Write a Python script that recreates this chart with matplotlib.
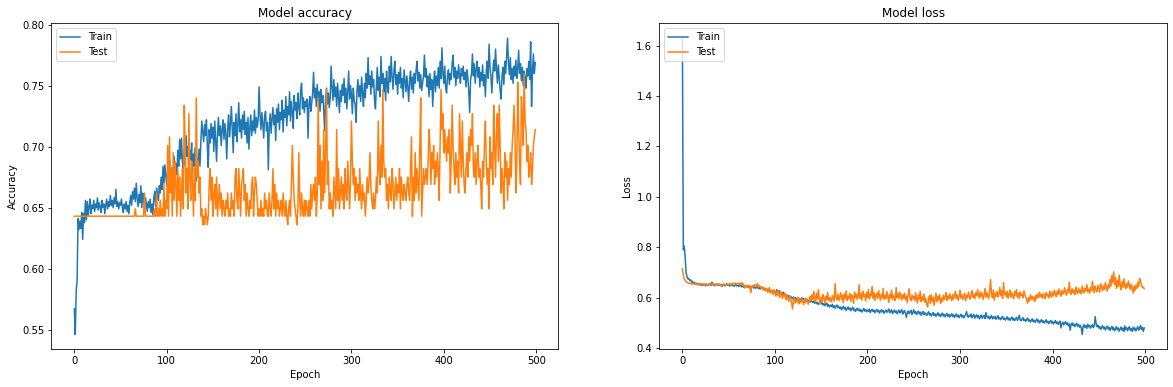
import numpy as np
import matplotlib
matplotlib.use("Agg")
import matplotlib.pyplot as plt

train_acc = [
0.567, 0.546, 0.582, 0.590, 0.641, 0.632, 0.639, 0.633, 0.646, 0.624,
0.645, 0.638, 0.656, 0.640, 0.655, 0.643, 0.651, 0.657, 0.645, 0.652,
0.649, 0.656, 0.647, 0.653, 0.650, 0.658, 0.648, 0.654, 0.651, 0.646,
0.656, 0.650, 0.653, 0.645, 0.652, 0.657, 0.649, 0.655, 0.651, 0.660,
0.652, 0.656, 0.650, 0.658, 0.653, 0.665, 0.651, 0.655, 0.649, 0.654,
0.652, 0.657, 0.650, 0.646, 0.653, 0.649, 0.655, 0.647, 0.652, 0.645,
0.654, 0.660, 0.652, 0.663, 0.657, 0.666, 0.655, 0.670, 0.658, 0.651,
0.661, 0.654, 0.668, 0.650, 0.662, 0.656, 0.649, 0.658, 0.653, 0.647,
0.655, 0.650, 0.657, 0.646, 0.653, 0.644, 0.658, 0.663, 0.651, 0.666,
0.660, 0.656, 0.668, 0.662, 0.675, 0.665, 0.684, 0.670, 0.685, 0.676,
0.668, 0.680, 0.671, 0.689, 0.678, 0.665, 0.683, 0.674, 0.692, 0.680,
0.686, 0.677, 0.697, 0.684, 0.706, 0.690, 0.707, 0.688, 0.682, 0.698,
0.685, 0.709, 0.692, 0.700, 0.680, 0.697, 0.689, 0.703, 0.678, 0.694,
0.684, 0.699, 0.672, 0.690, 0.686, 0.698, 0.684, 0.705, 0.721, 0.712,
0.704, 0.718, 0.709, 0.722, 0.700, 0.683, 0.714, 0.703, 0.719, 0.707,
0.716, 0.696, 0.721, 0.705, 0.688, 0.712, 0.724, 0.709, 0.717, 0.701,
0.714, 0.722, 0.706, 0.719, 0.710, 0.690, 0.715, 0.726, 0.708, 0.718,
0.733, 0.713, 0.695, 0.720, 0.709, 0.727, 0.704, 0.718, 0.736, 0.712,
0.722, 0.707, 0.726, 0.714, 0.729, 0.710, 0.720, 0.703, 0.724, 0.698,
0.715, 0.726, 0.709, 0.721, 0.713, 0.730, 0.711, 0.724, 0.716, 0.722,
0.749, 0.726, 0.714, 0.728, 0.719, 0.707, 0.725, 0.729, 0.713, 0.720,
0.681, 0.716, 0.727, 0.711, 0.723, 0.732, 0.718, 0.726, 0.705, 0.731,
0.720, 0.735, 0.714, 0.728, 0.722, 0.738, 0.712, 0.730, 0.724, 0.741,
0.717, 0.733, 0.726, 0.745, 0.721, 0.737, 0.728, 0.715, 0.742, 0.730,
0.736, 0.723, 0.744, 0.732, 0.726, 0.746, 0.752, 0.731, 0.740, 0.728,
0.737, 0.733, 0.739, 0.707, 0.735, 0.741, 0.729, 0.736, 0.744, 0.761,
0.740, 0.748, 0.733, 0.751, 0.738, 0.745, 0.729, 0.747, 0.736, 0.742,
0.730, 0.713, 0.739, 0.748, 0.735, 0.744, 0.732, 0.740, 0.766, 0.749,
0.738, 0.755, 0.741, 0.749, 0.733, 0.752, 0.740, 0.728, 0.746, 0.737,
0.751, 0.742, 0.756, 0.736, 0.748, 0.731, 0.745, 0.762, 0.739, 0.750,
0.743, 0.727, 0.748, 0.738, 0.735, 0.720, 0.746, 0.755, 0.741, 0.750,
0.737, 0.757, 0.744, 0.733, 0.752, 0.740, 0.760, 0.748, 0.773, 0.751,
0.758, 0.743, 0.762, 0.749, 0.755, 0.738, 0.731, 0.751, 0.765, 0.746,
0.757, 0.741, 0.774, 0.752, 0.760, 0.745, 0.756, 0.738, 0.762, 0.750,
0.744, 0.766, 0.753, 0.774, 0.757, 0.747, 0.762, 0.770, 0.751, 0.759,
0.743, 0.761, 0.752, 0.765, 0.748, 0.756, 0.740, 0.763, 0.754, 0.745,
0.758, 0.749, 0.737, 0.755, 0.762, 0.747, 0.757, 0.744, 0.760, 0.752,
0.763, 0.770, 0.754, 0.761, 0.748, 0.759, 0.746, 0.752, 0.758, 0.775,
0.757, 0.764, 0.749, 0.758, 0.741, 0.760, 0.747, 0.755, 0.733, 0.752,
0.762, 0.745, 0.758, 0.750, 0.765, 0.748, 0.770, 0.756, 0.781, 0.760,
0.752, 0.766, 0.748, 0.744, 0.758, 0.763, 0.751, 0.760, 0.755, 0.768,
0.775, 0.757, 0.765, 0.750, 0.762, 0.756, 0.767, 0.759, 0.752, 0.764,
0.758, 0.766, 0.755, 0.761, 0.749, 0.763, 0.757, 0.745, 0.728, 0.755,
0.760, 0.776, 0.758, 0.768, 0.752, 0.763, 0.770, 0.757, 0.765, 0.749,
0.761, 0.754, 0.767, 0.750, 0.759, 0.741, 0.762, 0.770, 0.756, 0.784,
0.765, 0.758, 0.744, 0.760, 0.771, 0.762, 0.780, 0.764, 0.752, 0.767,
0.757, 0.746, 0.739, 0.758, 0.765, 0.751, 0.770, 0.760, 0.774, 0.789,
0.768, 0.759, 0.773, 0.755, 0.764, 0.752, 0.766, 0.758, 0.771, 0.756,
0.763, 0.779, 0.760, 0.768, 0.754, 0.765, 0.750, 0.762, 0.757, 0.748,
0.764, 0.758, 0.770, 0.755, 0.786, 0.733, 0.762, 0.776, 0.760, 0.769,
]

test_acc = [
0.643, 0.643, 0.643, 0.643, 0.643, 0.643, 0.643, 0.643, 0.643, 0.643,
0.643, 0.643, 0.643, 0.643, 0.643, 0.643, 0.643, 0.643, 0.643, 0.643,
0.643, 0.643, 0.643, 0.643, 0.643, 0.643, 0.643, 0.643, 0.643, 0.643,
0.643, 0.643, 0.643, 0.643, 0.643, 0.643, 0.643, 0.643, 0.643, 0.643,
0.643, 0.643, 0.643, 0.643, 0.643, 0.643, 0.643, 0.643, 0.643, 0.643,
0.643, 0.643, 0.643, 0.643, 0.643, 0.643, 0.643, 0.643, 0.643, 0.643,
0.643, 0.643, 0.643, 0.643, 0.643, 0.643, 0.649, 0.643, 0.643, 0.643,
0.643, 0.643, 0.643, 0.643, 0.643, 0.643, 0.662, 0.643, 0.643, 0.643,
0.643, 0.643, 0.643, 0.643, 0.643, 0.643, 0.643, 0.649, 0.643, 0.662,
0.643, 0.649, 0.643, 0.656, 0.643, 0.649, 0.643, 0.669, 0.643, 0.656,
0.649, 0.701, 0.643, 0.708, 0.662, 0.682, 0.643, 0.695, 0.656, 0.688,
0.669, 0.643, 0.682, 0.656, 0.675, 0.643, 0.662, 0.682, 0.649, 0.734,
0.701, 0.662, 0.682, 0.649, 0.727, 0.675, 0.656, 0.688, 0.669, 0.643,
0.682, 0.656, 0.740, 0.675, 0.688, 0.662, 0.675, 0.643, 0.649, 0.636,
0.643, 0.636, 0.649, 0.643, 0.636, 0.643, 0.669, 0.682, 0.656, 0.675,
0.643, 0.662, 0.669, 0.649, 0.675, 0.643, 0.656, 0.669, 0.649, 0.662,
0.643, 0.656, 0.649, 0.643, 0.656, 0.649, 0.662, 0.643, 0.649, 0.643,
0.662, 0.649, 0.656, 0.643, 0.675, 0.682, 0.656, 0.649, 0.682, 0.662,
0.643, 0.669, 0.675, 0.682, 0.656, 0.669, 0.643, 0.662, 0.649, 0.643,
0.656, 0.649, 0.669, 0.675, 0.643, 0.662, 0.675, 0.669, 0.656, 0.643,
0.649, 0.643, 0.656, 0.643, 0.649, 0.643, 0.662, 0.649, 0.656, 0.643,
0.643, 0.662, 0.649, 0.643, 0.656, 0.682, 0.649, 0.669, 0.643, 0.662,
0.649, 0.656, 0.643, 0.649, 0.656, 0.643, 0.662, 0.649, 0.643, 0.656,
0.643, 0.636, 0.649, 0.656, 0.643, 0.669, 0.701, 0.675, 0.656, 0.649,
0.643, 0.636, 0.649, 0.695, 0.656, 0.643, 0.662, 0.649, 0.643, 0.656,
0.643, 0.656, 0.649, 0.643, 0.656, 0.643, 0.669, 0.649, 0.662, 0.669,
0.656, 0.675, 0.643, 0.662, 0.740, 0.669, 0.701, 0.649, 0.688, 0.656,
0.714, 0.662, 0.695, 0.747, 0.669, 0.688, 0.649, 0.662, 0.649, 0.656,
0.643, 0.675, 0.662, 0.649, 0.714, 0.656, 0.682, 0.649, 0.662, 0.675,
0.656, 0.669, 0.649, 0.682, 0.662, 0.656, 0.688, 0.669, 0.649, 0.675,
0.721, 0.688, 0.669, 0.682, 0.656, 0.675, 0.662, 0.669, 0.656, 0.682,
0.662, 0.649, 0.669, 0.656, 0.662, 0.643, 0.656, 0.675, 0.662, 0.669,
0.695, 0.669, 0.656, 0.649, 0.662, 0.649, 0.656, 0.675, 0.662, 0.721,
0.682, 0.669, 0.701, 0.675, 0.747, 0.688, 0.675, 0.682, 0.656, 0.669,
0.649, 0.675, 0.662, 0.656, 0.682, 0.669, 0.649, 0.662, 0.675, 0.656,
0.669, 0.662, 0.682, 0.649, 0.675, 0.662, 0.656, 0.669, 0.662, 0.656,
0.669, 0.675, 0.662, 0.656, 0.682, 0.708, 0.643, 0.675, 0.656, 0.695,
0.662, 0.682, 0.669, 0.656, 0.701, 0.740, 0.643, 0.662, 0.682, 0.669,
0.675, 0.682, 0.669, 0.688, 0.714, 0.701, 0.669, 0.695, 0.682, 0.701,
0.669, 0.688, 0.675, 0.695, 0.682, 0.656, 0.701, 0.747, 0.714, 0.727,
0.695, 0.714, 0.701, 0.688, 0.708, 0.695, 0.714, 0.662, 0.688, 0.734,
0.701, 0.682, 0.669, 0.695, 0.675, 0.688, 0.662, 0.727, 0.701, 0.675,
0.721, 0.688, 0.669, 0.662, 0.682, 0.695, 0.675, 0.708, 0.688, 0.714,
0.701, 0.727, 0.682, 0.675, 0.695, 0.669, 0.688, 0.701, 0.675, 0.682,
0.669, 0.649, 0.688, 0.675, 0.701, 0.721, 0.688, 0.669, 0.682, 0.649,
0.708, 0.682, 0.695, 0.669, 0.734, 0.701, 0.675, 0.714, 0.727, 0.688,
0.734, 0.701, 0.662, 0.682, 0.669, 0.649, 0.695, 0.675, 0.688, 0.656,
0.682, 0.669, 0.695, 0.675, 0.701, 0.714, 0.734, 0.708, 0.662, 0.688,
0.753, 0.714, 0.688, 0.669, 0.741, 0.727, 0.701, 0.760, 0.721, 0.714,
0.688, 0.701, 0.675, 0.682, 0.695, 0.669, 0.682, 0.701, 0.708, 0.714,
]

train_loss = [
1.630, 0.790, 0.805, 0.760, 0.700, 0.682, 0.675, 0.676, 0.668, 0.670,
0.662, 0.665, 0.657, 0.660, 0.654, 0.658, 0.652, 0.656, 0.650, 0.655,
0.651, 0.648, 0.655, 0.650, 0.653, 0.647, 0.654, 0.651, 0.649, 0.656,
0.652, 0.648, 0.662, 0.650, 0.653, 0.647, 0.652, 0.655, 0.649, 0.651,
0.654, 0.648, 0.652, 0.645, 0.651, 0.653, 0.647, 0.650, 0.656, 0.649,
0.652, 0.646, 0.650, 0.654, 0.647, 0.651, 0.645, 0.649, 0.653, 0.646,
0.650, 0.644, 0.648, 0.652, 0.643, 0.647, 0.641, 0.646, 0.649, 0.642,
0.645, 0.640, 0.647, 0.643, 0.638, 0.644, 0.646, 0.639, 0.643, 0.637,
0.641, 0.645, 0.636, 0.640, 0.634, 0.639, 0.642, 0.633, 0.637, 0.631,
0.635, 0.628, 0.633, 0.626, 0.631, 0.624, 0.629, 0.622, 0.627, 0.619,
0.624, 0.617, 0.632, 0.615, 0.620, 0.628, 0.612, 0.618, 0.610, 0.622,
0.607, 0.615, 0.604, 0.611, 0.602, 0.608, 0.598, 0.606, 0.600, 0.595,
0.603, 0.596, 0.601, 0.593, 0.598, 0.590, 0.596, 0.588, 0.594, 0.600,
0.592, 0.597, 0.589, 0.595, 0.586, 0.591, 0.584, 0.590, 0.582, 0.588,
0.585, 0.580, 0.587, 0.578, 0.583, 0.576, 0.581, 0.573, 0.579, 0.584,
0.575, 0.580, 0.571, 0.577, 0.568, 0.574, 0.579, 0.566, 0.572, 0.563,
0.570, 0.565, 0.574, 0.561, 0.568, 0.558, 0.566, 0.571, 0.560, 0.564,
0.557, 0.563, 0.552, 0.560, 0.566, 0.555, 0.561, 0.549, 0.557, 0.563,
0.553, 0.559, 0.548, 0.556, 0.562, 0.550, 0.555, 0.545, 0.553, 0.558,
0.549, 0.555, 0.546, 0.552, 0.543, 0.550, 0.557, 0.547, 0.553, 0.544,
0.551, 0.546, 0.555, 0.541, 0.549, 0.554, 0.545, 0.551, 0.540, 0.548,
0.553, 0.544, 0.550, 0.539, 0.547, 0.552, 0.543, 0.549, 0.538, 0.546,
0.551, 0.542, 0.548, 0.555, 0.540, 0.547, 0.552, 0.537, 0.545, 0.550,
0.541, 0.548, 0.536, 0.544, 0.551, 0.539, 0.546, 0.553, 0.535, 0.543,
0.549, 0.538, 0.522, 0.541, 0.547, 0.536, 0.544, 0.550, 0.534, 0.542,
0.552, 0.538, 0.545, 0.533, 0.541, 0.547, 0.535, 0.543, 0.530, 0.539,
0.545, 0.532, 0.540, 0.536, 0.529, 0.538, 0.544, 0.531, 0.537, 0.527,
0.535, 0.541, 0.529, 0.536, 0.526, 0.534, 0.540, 0.528, 0.535, 0.525,
0.533, 0.539, 0.527, 0.534, 0.524, 0.531, 0.538, 0.526, 0.533, 0.523,
0.530, 0.536, 0.525, 0.532, 0.522, 0.529, 0.535, 0.524, 0.531, 0.521,
0.528, 0.534, 0.523, 0.530, 0.520, 0.527, 0.533, 0.545, 0.528, 0.522,
0.531, 0.526, 0.535, 0.520, 0.528, 0.533, 0.519, 0.527, 0.532, 0.521,
0.529, 0.516, 0.525, 0.531, 0.518, 0.526, 0.530, 0.517, 0.541, 0.524,
0.519, 0.527, 0.515, 0.523, 0.529, 0.516, 0.524, 0.518, 0.526, 0.514,
0.522, 0.528, 0.515, 0.521, 0.513, 0.520, 0.526, 0.514, 0.519, 0.511,
0.518, 0.524, 0.512, 0.519, 0.510, 0.517, 0.523, 0.511, 0.518, 0.509,
0.516, 0.522, 0.510, 0.517, 0.531, 0.512, 0.508, 0.515, 0.521, 0.509,
0.514, 0.506, 0.513, 0.519, 0.507, 0.512, 0.503, 0.510, 0.516, 0.505,
0.511, 0.502, 0.509, 0.515, 0.504, 0.510, 0.500, 0.507, 0.513, 0.502,
0.508, 0.499, 0.506, 0.512, 0.501, 0.507, 0.497, 0.504, 0.510, 0.499,
0.505, 0.496, 0.503, 0.509, 0.498, 0.504, 0.494, 0.501, 0.507, 0.480,
0.497, 0.503, 0.492, 0.499, 0.505, 0.494, 0.500, 0.489, 0.496, 0.471,
0.494, 0.500, 0.489, 0.496, 0.485, 0.493, 0.499, 0.487, 0.494, 0.483,
0.490, 0.480, 0.454, 0.486, 0.493, 0.482, 0.489, 0.478, 0.495, 0.484,
0.490, 0.479, 0.487, 0.493, 0.481, 0.488, 0.525, 0.497, 0.485, 0.491,
0.479, 0.486, 0.474, 0.482, 0.489, 0.477, 0.484, 0.472, 0.480, 0.487,
0.475, 0.483, 0.470, 0.479, 0.486, 0.473, 0.481, 0.468, 0.477, 0.485,
0.472, 0.480, 0.467, 0.476, 0.484, 0.471, 0.479, 0.466, 0.488, 0.474,
0.481, 0.469, 0.478, 0.485, 0.470, 0.477, 0.466, 0.483, 0.472, 0.480,
0.468, 0.476, 0.485, 0.471, 0.479, 0.490, 0.474, 0.482, 0.466, 0.480,
]

test_loss = [
0.715, 0.690, 0.676, 0.668, 0.664, 0.661, 0.659, 0.657, 0.658, 0.655,
0.656, 0.654, 0.657, 0.653, 0.655, 0.652, 0.656, 0.654, 0.651, 0.655,
0.653, 0.656, 0.652, 0.654, 0.651, 0.655, 0.653, 0.650, 0.654, 0.652,
0.655, 0.651, 0.653, 0.656, 0.652, 0.654, 0.650, 0.653, 0.655, 0.651,
0.654, 0.652, 0.649, 0.653, 0.651, 0.655, 0.650, 0.652, 0.654, 0.651,
0.653, 0.656, 0.651, 0.654, 0.658, 0.652, 0.655, 0.659, 0.653, 0.657,
0.654, 0.658, 0.652, 0.656, 0.660, 0.650, 0.655, 0.638, 0.648, 0.645,
0.643, 0.650, 0.639, 0.647, 0.620, 0.641, 0.648, 0.644, 0.652, 0.646,
0.650, 0.656, 0.642, 0.649, 0.645, 0.638, 0.643, 0.630, 0.640, 0.635,
0.628, 0.637, 0.622, 0.633, 0.640, 0.618, 0.630, 0.625, 0.612, 0.632,
0.620, 0.606, 0.624, 0.610, 0.629, 0.601, 0.617, 0.622, 0.596, 0.613,
0.604, 0.619, 0.592, 0.608, 0.598, 0.585, 0.606, 0.594, 0.580, 0.555,
0.588, 0.599, 0.578, 0.592, 0.583, 0.602, 0.575, 0.590, 0.581, 0.596,
0.584, 0.572, 0.593, 0.580, 0.598, 0.586, 0.574, 0.595, 0.605, 0.588,
0.612, 0.591, 0.625, 0.600, 0.583, 0.618, 0.596, 0.632, 0.590, 0.575,
0.603, 0.585, 0.612, 0.598, 0.579, 0.606, 0.592, 0.620, 0.587, 0.601,
0.595, 0.583, 0.609, 0.597, 0.586, 0.656, 0.602, 0.591, 0.614, 0.588,
0.605, 0.620, 0.592, 0.610, 0.580, 0.615, 0.598, 0.627, 0.589, 0.607,
0.596, 0.618, 0.585, 0.611, 0.603, 0.578, 0.622, 0.600, 0.614, 0.593,
0.608, 0.651, 0.597, 0.616, 0.590, 0.625, 0.604, 0.612, 0.587, 0.620,
0.601, 0.632, 0.594, 0.615, 0.607, 0.645, 0.598, 0.622, 0.589, 0.611,
0.618, 0.596, 0.628, 0.605, 0.590, 0.613, 0.600, 0.637, 0.594, 0.609,
0.597, 0.624, 0.605, 0.581, 0.614, 0.599, 0.630, 0.592, 0.610, 0.603,
0.588, 0.640, 0.601, 0.617, 0.595, 0.622, 0.606, 0.590, 0.612, 0.598,
0.618, 0.593, 0.607, 0.580, 0.614, 0.635, 0.600, 0.588, 0.611, 0.596,
0.605, 0.588, 0.620, 0.597, 0.579, 0.611, 0.594, 0.626, 0.584, 0.603,
0.590, 0.615, 0.582, 0.598, 0.573, 0.563, 0.595, 0.608, 0.577, 0.612,
0.586, 0.601, 0.570, 0.594, 0.618, 0.583, 0.606, 0.590, 0.612, 0.578,
0.598, 0.585, 0.610, 0.592, 0.604, 0.620, 0.589, 0.607, 0.596, 0.615,
0.600, 0.588, 0.613, 0.594, 0.608, 0.625, 0.597, 0.611, 0.589, 0.604,
0.630, 0.598, 0.612, 0.593, 0.606, 0.618, 0.588, 0.609, 0.600, 0.622,
0.605, 0.594, 0.616, 0.628, 0.601, 0.613, 0.596, 0.620, 0.607, 0.632,
0.610, 0.598, 0.624, 0.605, 0.617, 0.593, 0.612, 0.637, 0.602, 0.620,
0.608, 0.596, 0.627, 0.672, 0.614, 0.600, 0.631, 0.590, 0.618, 0.606,
0.625, 0.603, 0.616, 0.641, 0.608, 0.628, 0.597, 0.660, 0.612, 0.620,
0.604, 0.626, 0.598, 0.613, 0.630, 0.601, 0.619, 0.607, 0.595, 0.624,
0.610, 0.632, 0.602, 0.617, 0.596, 0.623, 0.608, 0.614, 0.599, 0.627,
0.611, 0.604, 0.589, 0.578, 0.600, 0.586, 0.612, 0.594, 0.605, 0.591,
0.603, 0.585, 0.610, 0.597, 0.615, 0.600, 0.622, 0.604, 0.612, 0.598,
0.618, 0.605, 0.596, 0.620, 0.607, 0.613, 0.599, 0.626, 0.610, 0.602,
0.623, 0.608, 0.630, 0.615, 0.604, 0.627, 0.612, 0.635, 0.617, 0.606,
0.629, 0.614, 0.621, 0.640, 0.618, 0.610, 0.632, 0.620, 0.662, 0.625,
0.613, 0.636, 0.620, 0.628, 0.612, 0.642, 0.624, 0.616, 0.638, 0.621,
0.630, 0.615, 0.646, 0.626, 0.619, 0.637, 0.628, 0.652, 0.622, 0.633,
0.618, 0.641, 0.627, 0.665, 0.635, 0.620, 0.646, 0.631, 0.624, 0.650,
0.636, 0.622, 0.655, 0.640, 0.628, 0.647, 0.633, 0.660, 0.642, 0.626,
0.651, 0.638, 0.672, 0.645, 0.688, 0.660, 0.703, 0.652, 0.681, 0.637,
0.668, 0.644, 0.690, 0.650, 0.632, 0.663, 0.641, 0.675, 0.648, 0.636,
0.657, 0.642, 0.666, 0.649, 0.631, 0.654, 0.640, 0.618, 0.645, 0.628,
0.650, 0.637, 0.661, 0.645, 0.676, 0.668, 0.652, 0.640, 0.642, 0.636,
]

legend_labels = ["Train", "Test"]

W, H, DPI = 1173, 387, 72
fig = plt.figure(figsize=(W / DPI, H / DPI), dpi=DPI)
ax1 = fig.add_axes([51.3 / W, 37.7 / H, 507 / W, 326 / H])
ax2 = fig.add_axes([659.3 / W, 37.7 / H, 508 / W, 326 / H])

ax1.plot(np.arange(len(train_acc)), train_acc)
ax1.plot(np.arange(len(test_acc)), test_acc)
ax1.set_title("Model accuracy")
ax1.set_ylabel("Accuracy")
ax1.set_xlabel("Epoch")
ax1.legend(legend_labels, loc="upper left")

ax2.plot(np.arange(len(train_loss)), train_loss)
ax2.plot(np.arange(len(test_loss)), test_loss)
ax2.set_title("Model loss")
ax2.set_ylabel("Loss")
ax2.set_xlabel("Epoch")
ax2.legend(legend_labels, loc="upper left")

fig.savefig("out.png", dpi=DPI)
